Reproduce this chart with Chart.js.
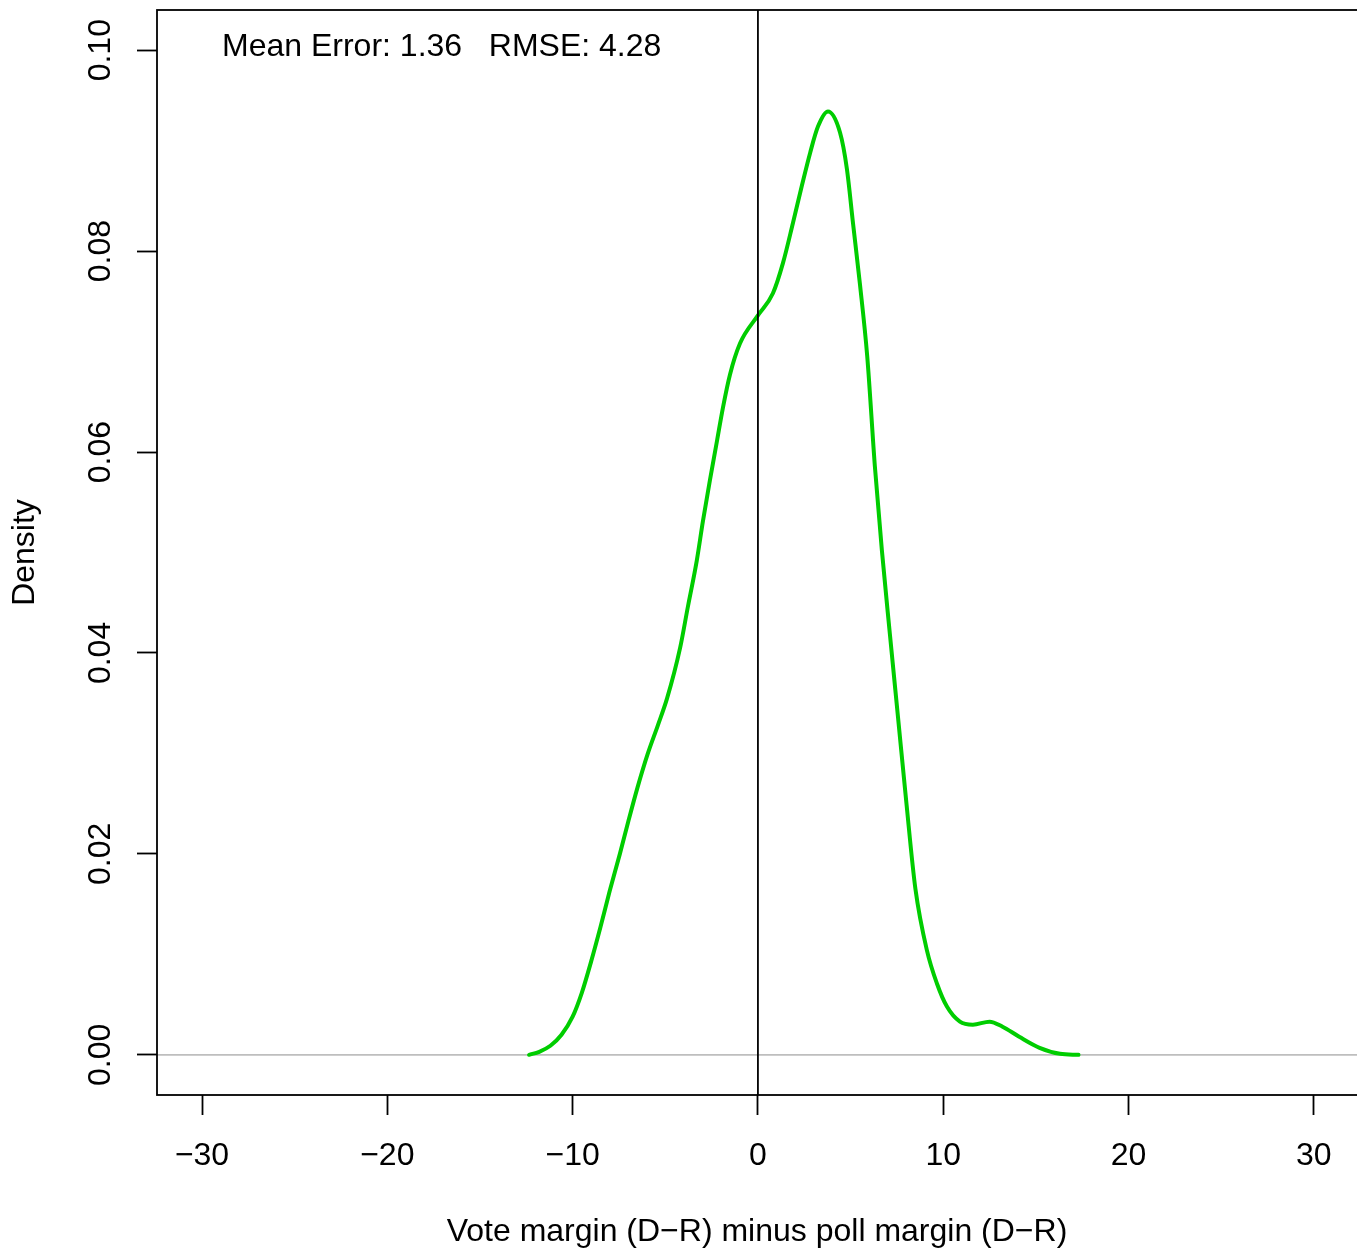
<!DOCTYPE html>
<html>
<head>
<meta charset="utf-8">
<title>Poll error density</title>
<script src="https://cdn.jsdelivr.net/npm/chart.js@4.4.1/dist/chart.umd.min.js"></script>
<style>
  body { margin: 0; background: #fff; }
  #wrap { width: 1357px; height: 1252px; }
</style>
</head>
<body>
<div id="wrap"><canvas id="densityChart" width="1357" height="1252"></canvas></div>
<script>
// vote margin minus poll margin (D-R)
const marginValues = [-12.35, -11.8, -11.2, -10.6, -10.0, -9.5, -9.0, -8.5, -8.0, -7.45, -7.0, -6.5, -5.94, -5.4,
  -4.9, -4.2, -3.78, -3.3, -2.97, -2.59, -2.21, -1.89, -1.51, -0.97, 0, 0.81, 1.35, 1.89, 2.37, 2.82, 3.24, 3.78,
  4.43, 4.8, 5.13, 5.5, 5.9, 6.31, 6.69, 7.12, 7.56, 8.0, 8.5, 9.12, 9.66, 10.2, 10.9, 11.6, 12.5, 13.2, 14.1,
  15.2, 16.3, 17.3];
const densityValues = [0.0, 0.0003, 0.0009, 0.002, 0.0038, 0.0062, 0.0093, 0.0127, 0.0163, 0.02, 0.0232, 0.0266,
  0.03, 0.0328, 0.0355, 0.0405, 0.0446, 0.0492, 0.0531, 0.0572, 0.0611, 0.0644, 0.0677, 0.0708, 0.0736, 0.0758,
  0.0788, 0.0828, 0.0865, 0.0898, 0.0924, 0.0939, 0.0918, 0.0882, 0.0828, 0.0768, 0.0695, 0.0586, 0.0502, 0.0419,
  0.0336, 0.0253, 0.0165, 0.0104, 0.0071, 0.0048, 0.0033, 0.003, 0.0033, 0.0028, 0.0018, 0.0007, 0.0001, 0.0];

const xTicks = [-30, -20, -10, 0, 10, 20, 30];
const yTicks = [0, 0.02, 0.04, 0.06, 0.08, 0.10];
const statsText = 'Mean Error: 1.36   RMSE: 4.28';

const fontFamily = '"Liberation Sans", Arial, Helvetica, sans-serif';

// box, zero lines and the stats text, like the R plot
const framePlugin = {
  id: 'frame',
  beforeDatasetsDraw(chart) {
    const {ctx, chartArea, scales} = chart;
    const y0 = scales.y.getPixelForValue(0);
    ctx.save();
    ctx.strokeStyle = '#BEBEBE';
    ctx.lineWidth = 1.8;
    ctx.beginPath();
    ctx.moveTo(chartArea.left, y0);
    ctx.lineTo(chartArea.right, y0);
    ctx.stroke();
    ctx.restore();
  },
  afterDatasetsDraw(chart) {
    const {ctx, chartArea, scales} = chart;
    const x0 = scales.x.getPixelForValue(0);
    ctx.save();
    ctx.strokeStyle = '#000';
    ctx.lineWidth = 1.8;
    ctx.beginPath();
    ctx.moveTo(x0, chartArea.top);
    ctx.lineTo(x0, chartArea.bottom);
    ctx.stroke();
    // right edge falls just off the canvas
    ctx.strokeRect(chartArea.left, chartArea.top, chartArea.right - chartArea.left + 3, chartArea.bottom - chartArea.top);
    ctx.fillStyle = '#000';
    ctx.font = '32px ' + fontFamily;
    ctx.textBaseline = 'middle';
    ctx.textAlign = 'left';
    ctx.fillText(statsText, 222, 47);
    ctx.restore();
  }
};

const ctx = document.getElementById('densityChart').getContext('2d');
new Chart(ctx, {
  type: 'line',
  data: {
    datasets: [{
      data: marginValues.map((x, i) => ({x: x, y: densityValues[i]})),
      borderColor: '#00CD00',
      borderWidth: 4,
      borderCapStyle: 'round',
      borderJoinStyle: 'round',
      pointRadius: 0,
      cubicInterpolationMode: 'monotone',
      fill: false
    }]
  },
  options: {
    responsive: false,
    animation: false,
    layout: { padding: { top: 10, left: 0, right: 0, bottom: 0 } },
    plugins: { legend: { display: false }, tooltip: { enabled: false } },
    scales: {
      x: {
        type: 'linear',
        min: -32.43,
        max: 32.33,
        afterBuildTicks: s => { s.ticks = xTicks.map(v => ({value: v})); },
        afterFit: s => { s.height = 157; s.paddingLeft = 0; s.paddingRight = 0; },
        border: { display: false },
        grid: { drawOnChartArea: false, drawTicks: true, tickLength: 20, tickColor: '#000', tickWidth: 1.8 },
        ticks: {
          autoSkip: false,
          maxRotation: 0,
          padding: 22,
          color: '#000',
          font: { family: fontFamily, size: 32 },
          callback: v => v < 0 ? '\u2212' + Math.abs(v) : String(v)
        },
        title: {
          display: true,
          text: 'Vote margin (D\u2212R) minus poll margin (D\u2212R)',
          color: '#000',
          font: { family: fontFamily, size: 32 },
          padding: { top: 0, bottom: 1 }
        }
      },
      y: {
        type: 'linear',
        min: -0.004,
        max: 0.104,
        afterBuildTicks: s => { s.ticks = yTicks.map(v => ({value: v})); },
        afterFit: s => { s.width = 157; s.paddingTop = 0; s.paddingBottom = 0; },
        border: { display: false },
        grid: { drawOnChartArea: false, drawTicks: true, tickLength: 20, tickColor: '#000', tickWidth: 1.8 },
        ticks: {
          autoSkip: false,
          minRotation: 90,
          maxRotation: 90,
          crossAlign: 'center',
          padding: 5,
          color: '#000',
          font: { family: fontFamily, size: 32 },
          callback: v => v.toFixed(2)
        },
        title: {
          display: true,
          text: 'Density',
          color: '#000',
          font: { family: fontFamily, size: 32 },
          padding: { top: 6, bottom: 0 }
        }
      }
    }
  },
  plugins: [framePlugin]
});
</script>
</body>
</html>
